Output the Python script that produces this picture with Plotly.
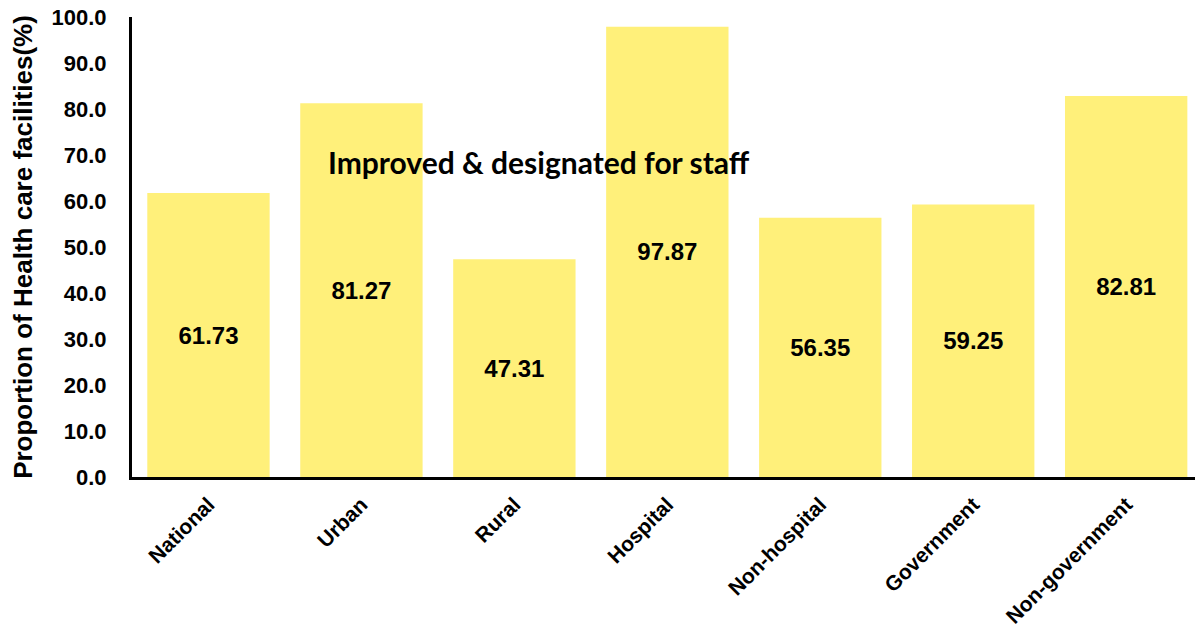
import plotly.graph_objects as go

categories = ["National", "Urban", "Rural", "Hospital", "Non-hospital", "Government", "Non-government"]
values = [61.73, 81.27, 47.31, 97.87, 56.35, 59.25, 82.81]
y_ticks = [0, 10, 20, 30, 40, 50, 60, 70, 80, 90, 100]

fig = go.Figure(
    go.Bar(
        x=categories,
        y=values,
        marker=dict(color="#FFF07A", line=dict(width=0)),
        text=[f"{v:.2f}" for v in values],
        textposition="inside",
        insidetextanchor="middle",
        textangle=0,
        textfont=dict(family="Liberation Sans", size=24, color="black", weight="bold"),
        cliponaxis=False,
    )
)

fig.add_annotation(
    text="<b>Improved & designated for staff</b>",
    x=2.16, y=68.5, xref="x", yref="y",
    showarrow=False,
    font=dict(family="Lato", size=30, color="black"),
)

fig.update_layout(
    width=1195, height=628,
    margin=dict(l=132, r=0, t=17, b=148),
    paper_bgcolor="white", plot_bgcolor="white",
    bargap=0.2,
    showlegend=False,
    xaxis=dict(
        range=[-0.5, 6.45],
        showline=True, linecolor="black", linewidth=3,
        tickangle=-45,
        tickfont=dict(family="Liberation Sans", size=21, color="black", weight="bold"),
        ticks="", showgrid=False, zeroline=False,
        ticklabelstandoff=4,
    ),
    yaxis=dict(
        range=[0, 100],
        tickvals=y_ticks,
        ticktext=[f"{v:.1f}" for v in y_ticks],
        showline=True, linecolor="black", linewidth=3,
        tickfont=dict(family="Liberation Sans", size=22, color="black", weight="bold"),
        ticks="", ticklen=0, showgrid=False, zeroline=False,
        ticklabelstandoff=18,
        title=dict(text="Proportion of Health care facilities(%)",
                   font=dict(family="Liberation Sans", size=26, color="black", weight="bold"),
                   standoff=12),
    ),
)

fig.write_html("out.html")
